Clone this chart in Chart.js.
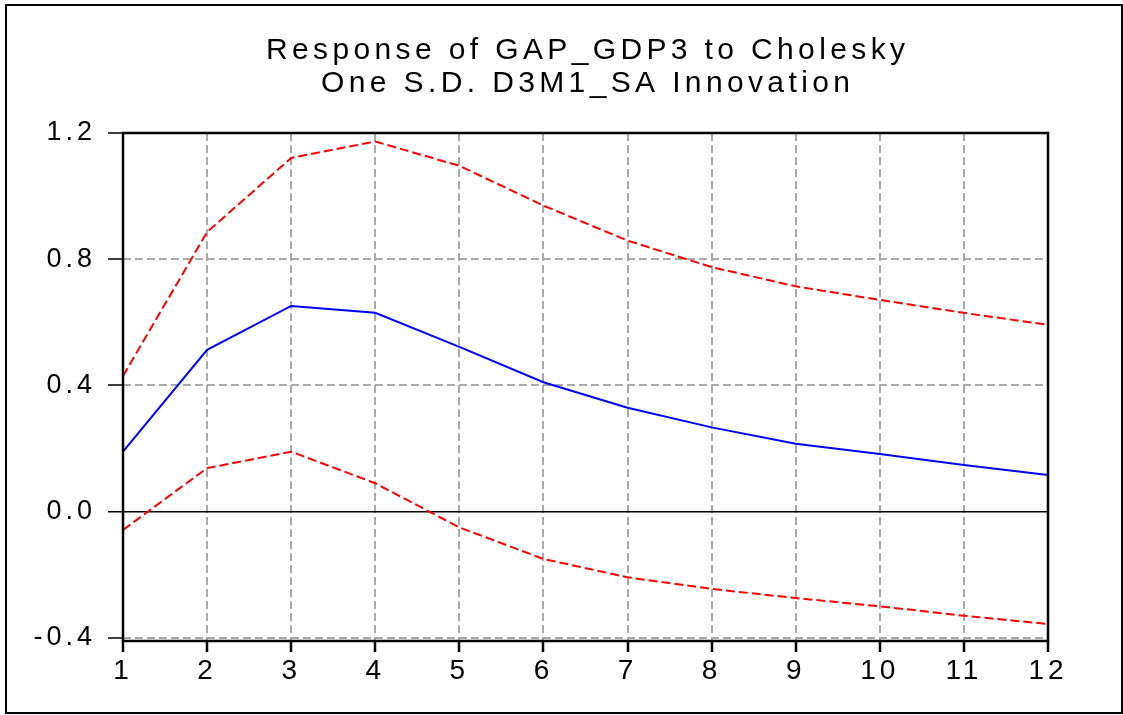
<!DOCTYPE html>
<html>
<head>
<meta charset="utf-8">
<script src="https://cdn.jsdelivr.net/npm/chart.js@4/dist/chart.umd.min.js"></script>
<style>
  html, body { margin: 0; padding: 0; background: #fff; }
  #wrap { width: 1123px; height: 715px; }
</style>
</head>
<body>
<div id="wrap"><canvas id="chart" width="1123" height="715"></canvas></div>
<script>
// impulse response, periods 1..12
const periods = ["1","2","3","4","5","6","7","8","9","10","11","12"];
const response  = [0.19, 0.513, 0.652, 0.63, 0.522, 0.41, 0.329, 0.267, 0.215, 0.183, 0.148, 0.116];
const upperBand = [0.43, 0.886, 1.121, 1.173, 1.096, 0.97, 0.859, 0.775, 0.714, 0.671, 0.63, 0.592];
const lowerBand = [-0.058, 0.138, 0.19, 0.09, -0.05, -0.15, -0.208, -0.245, -0.274, -0.30, -0.33, -0.356];
const yTicks = [-0.4, 0.0, 0.4, 0.8, 1.2];
const titleLines = ["Response of GAP_GDP3 to Cholesky", "One S.D. D3M1_SA Innovation"];

const FONT = "'Liberation Sans', Arial, sans-serif";
const GRID = "#a9a9a9";

// eviews-ish wide letter spacing on tick labels
const spacing = {
  id: "spacing",
  beforeUpdate(chart) { chart.ctx.letterSpacing = "4px"; },
  beforeDraw(chart) { chart.ctx.letterSpacing = "4px"; }
};

const frame = {
  id: "frame",
  afterDraw(chart) {
    const { ctx, chartArea: a } = chart;
    ctx.save();
    ctx.setLineDash([]);
    ctx.strokeStyle = "#000";
    ctx.lineWidth = 2.5;
    ctx.strokeRect(a.left, a.top, a.right - a.left, a.bottom - a.top);
    ctx.lineWidth = 2;
    ctx.strokeRect(6, 5, 1116, 708);

    // title
    ctx.font = "30px " + FONT;
    ctx.fillStyle = "#000";
    ctx.textAlign = "left";
    ctx.textBaseline = "alphabetic";
    ctx.letterSpacing = "0px";
    const w0 = ctx.measureText(titleLines[0]).width;
    const ls = (639 - w0) / (titleLines[0].length - 1);
    const cx = (a.left + a.right) / 2;
    const base = [58.5, 92];
    titleLines.forEach((t, i) => {
      ctx.letterSpacing = "0px";
      const w = ctx.measureText(t).width + ls * (t.length - 1);
      ctx.letterSpacing = ls + "px";
      ctx.fillText(t, cx - w / 2, base[i]);
    });
    ctx.restore();
  }
};

const isZero = c => c.tick && Math.abs(c.tick.value) < 1e-9;

new Chart(document.getElementById("chart"), {
  type: "line",
  data: {
    labels: periods,
    datasets: [
      { data: upperBand, borderColor: "#ff0000", borderWidth: 2, borderDash: [9, 4], pointRadius: 0, fill: false },
      { data: lowerBand, borderColor: "#ff0000", borderWidth: 2, borderDash: [9, 4], pointRadius: 0, fill: false },
      { data: response, borderColor: "#0000ff", borderWidth: 2, pointRadius: 0, fill: false }
    ]
  },
  options: {
    responsive: false,
    animation: false,
    layout: { padding: { top: 133, right: 75, left: 0, bottom: 0 } },
    plugins: { legend: { display: false }, tooltip: { enabled: false }, title: { display: false } },
    scales: {
      x: {
        type: "category",
        offset: false,
        grid: { color: GRID, lineWidth: 2, tickLength: 11, tickColor: "#000", tickWidth: 2.5 },
        border: { display: false, dash: [8, 4] },
        ticks: { color: "#000", font: { family: FONT, size: 28 }, padding: 2, maxRotation: 0, autoSkip: false },
        afterFit: s => { s.height = 74; }
      },
      y: {
        min: -0.41,
        max: 1.2,
        afterBuildTicks: s => { s.ticks = yTicks.map(v => ({ value: v })); },
        grid: {
          color: c => isZero(c) ? "#000" : GRID,
          lineWidth: c => isZero(c) ? 1.5 : 2,
          tickLength: 15, tickColor: "#000", tickWidth: 1.5
        },
        border: { display: false, dash: c => isZero(c) ? [] : [8, 4] },
        ticks: { color: "#000", font: { family: FONT, size: 27 }, padding: 12, callback: v => v.toFixed(1) },
        afterFit: s => { s.width = 123; }
      }
    }
  },
  plugins: [spacing, frame]
});
</script>
</body>
</html>
